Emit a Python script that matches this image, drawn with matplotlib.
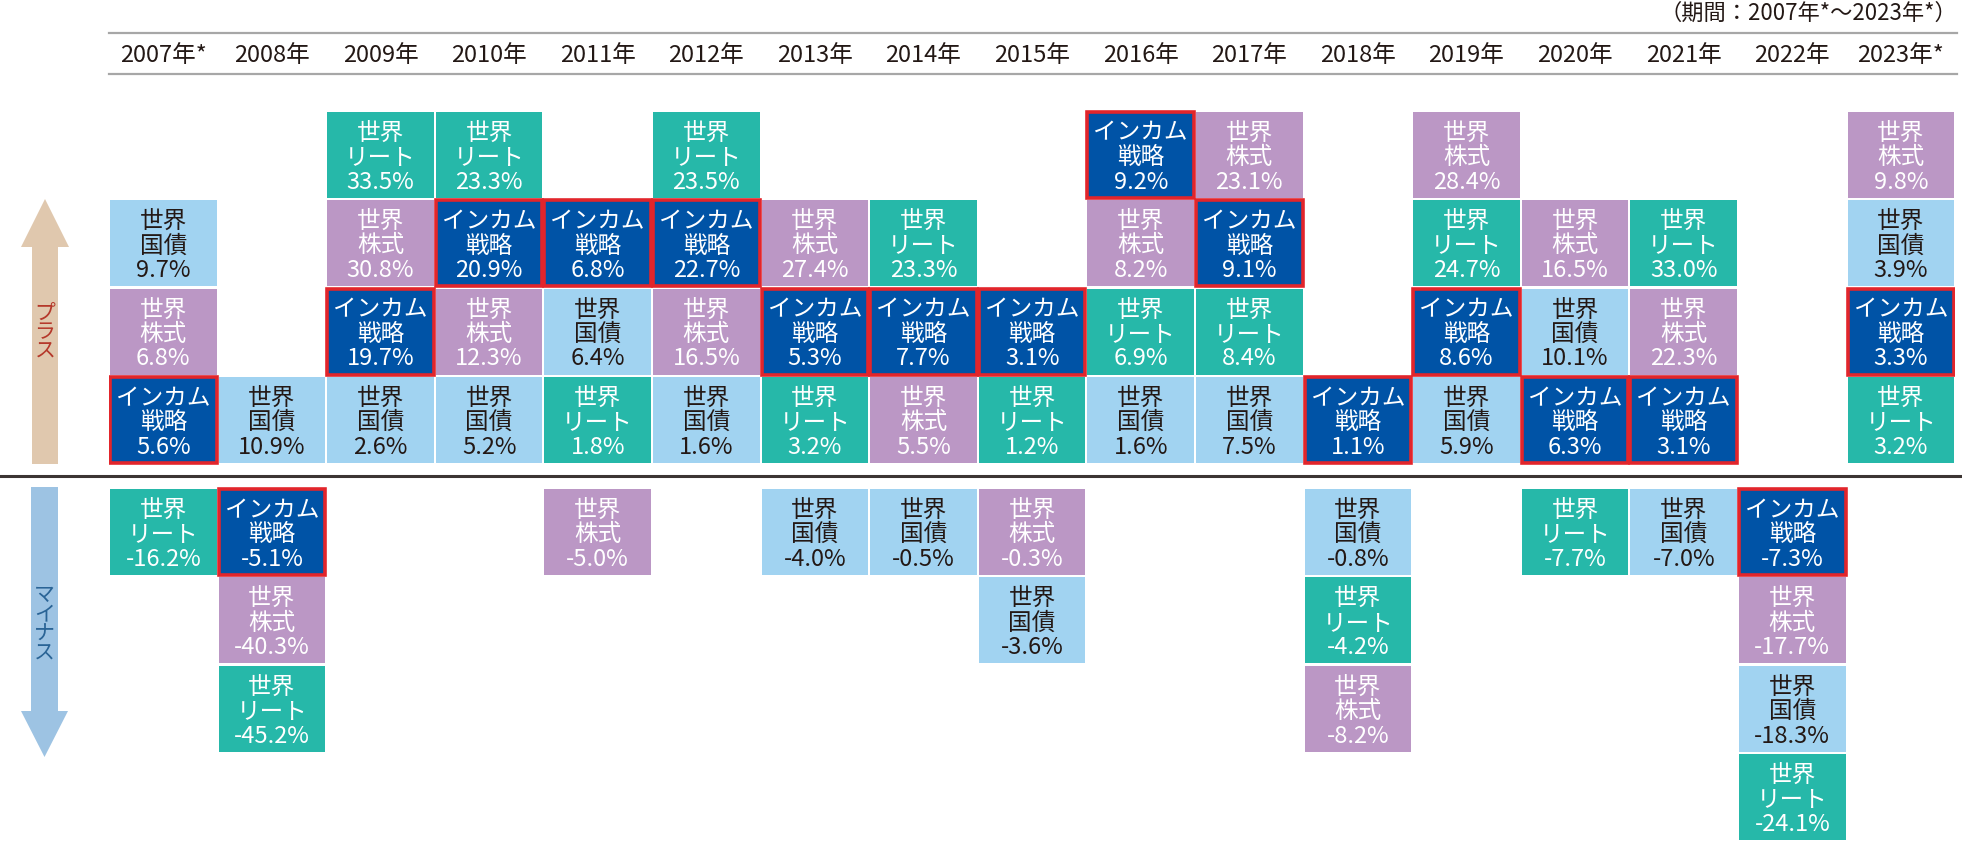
#!/usr/bin/env python3

import matplotlib
matplotlib.use("Agg")
import matplotlib.pyplot as plt
import matplotlib.patches as mpatches

plt.rcParams["font.family"] = ["Noto Sans CJK JP", "DejaVu Sans"]

YEARS = ["2007年*", "2008年", "2009年", "2010年", "2011年", "2012年", "2013年",
         "2014年", "2015年", "2016年", "2017年", "2018年", "2019年", "2020年",
         "2021年", "2022年", "2023年*"]

INCOME = [5.6, -5.1, 19.7, 20.9, 6.8, 22.7, 5.3, 7.7, 3.1, 9.2, 9.1, 1.1, 8.6, 6.3, 3.1, -7.3, 3.3]
STOCKS = [6.8, -40.3, 30.8, 12.3, -5.0, 16.5, 27.4, 5.5, -0.3, 8.2, 23.1, -8.2, 28.4, 16.5, 22.3, -17.7, 9.8]
REIT = [-16.2, -45.2, 33.5, 23.3, 1.8, 23.5, 3.2, 23.3, 1.2, 6.9, 8.4, -4.2, 24.7, -7.7, 33.0, -24.1, 3.2]
BONDS = [9.7, 10.9, 2.6, 5.2, 6.4, 1.6, -4.0, -0.5, -3.6, 1.6, 7.5, -0.8, 5.9, 10.1, -7.0, -18.3, 3.9]

ASSETS = (
    {"name": "インカム\n戦略", "values": INCOME, "color": "#0053A6", "text": "white", "mark": True},
    {"name": "世界\n株式", "values": STOCKS, "color": "#BB97C5", "text": "white", "mark": False},
    {"name": "世界\nリート", "values": REIT, "color": "#26B8A9", "text": "white", "mark": False},
    {"name": "世界\n国債", "values": BONDS, "color": "#A1D3F1", "text": "#231815", "mark": False},
)

W, H = 1962, 845
LEFT_PX = 109
PITCH_PX = 108.6
ROW_PX = 88.4
BASE_PX = 477

GAP = 0.147      # space between zero line and the first row
BOX_H = 0.973
BOX_W = 0.982


def px2x(px):
    return (px - LEFT_PX) / PITCH_PX


def px2y(py):
    return (BASE_PX - py) / ROW_PX


def main():
    fig = plt.figure(figsize=(W / 100, H / 100), dpi=100)
    ax = fig.add_axes([LEFT_PX / W, 0, len(YEARS) * PITCH_PX / W, 1])
    ax.set_xlim(0, len(YEARS))
    ax.set_ylim(px2y(H), px2y(0))
    ax.axis("off")

    for j, year in enumerate(YEARS):
        cells = [(a, a["values"][j]) for a in ASSETS]
        pos = sorted([c for c in cells if c[1] >= 0], key=lambda c: c[1])
        neg = sorted([c for c in cells if c[1] < 0], key=lambda c: -c[1])

        slots = []
        for k, c in enumerate(pos):
            slots.append((c, GAP + k))
        for k, c in enumerate(neg):
            slots.append((c, -GAP - k - BOX_H))

        for (a, v), y0 in slots:
            x0 = j + (1 - BOX_W) / 2
            rect = mpatches.Rectangle(
                (x0, y0), BOX_W, BOX_H,
                facecolor=a["color"],
                edgecolor="#E2252B" if a["mark"] else "none",
                linewidth=2.6,
                zorder=3 if a["mark"] else 2,
            )
            ax.add_patch(rect)
            ax.text(
                j + 0.5, y0 + BOX_H / 2 - 0.02,
                f"{a['name']}\n{v:.1f}%",
                color=a["text"], fontsize=17, ha="center", va="center",
                multialignment="center", linespacing=1.08, zorder=4,
            )

        ax.text(j + 0.5, px2y(55), year, fontsize=17, color="#231815",
                ha="center", va="center")

    # header rules
    for py in (34, 75):
        ax.plot([0, px2x(1957)], [px2y(py)] * 2, color="#A7A7A7",
                linewidth=1.6, clip_on=False)

    # zero line
    ax.plot([px2x(0), px2x(W)], [0, 0], color="#3C3533", linewidth=2.2,
            clip_on=False, zorder=5)

    ax.text(px2x(1957), px2y(13), "（期間：2007年*～2023年*）", fontsize=16,
            color="#231815", ha="right", va="center")

    # up / down arrows on the left
    up = [(32, 465), (32, 248), (21, 248), (45, 200), (69, 248), (58, 248), (58, 465)]
    down = [(31, 488), (31, 712), (21, 712), (44.5, 758), (68, 712), (58, 712), (58, 488)]
    ax.add_patch(mpatches.Polygon([(px2x(a), px2y(b)) for a, b in up],
                                  closed=True, facecolor="#E0C8AE",
                                  edgecolor="none", clip_on=False))
    ax.add_patch(mpatches.Polygon([(px2x(a), px2y(b)) for a, b in down],
                                  closed=True, facecolor="#9DC3E3",
                                  edgecolor="none", clip_on=False))
    ax.text(px2x(45), px2y(332), "プ\nラ\nス", fontsize=15, color="#B5382A",
            ha="center", va="center", linespacing=0.85)
    ax.text(px2x(44.5), px2y(624), "マ\nイ\nナ\nス", fontsize=15, color="#2A6496",
            ha="center", va="center", linespacing=0.85)

    fig.savefig("out.png", dpi=100)


if __name__ == "__main__":
    main()
